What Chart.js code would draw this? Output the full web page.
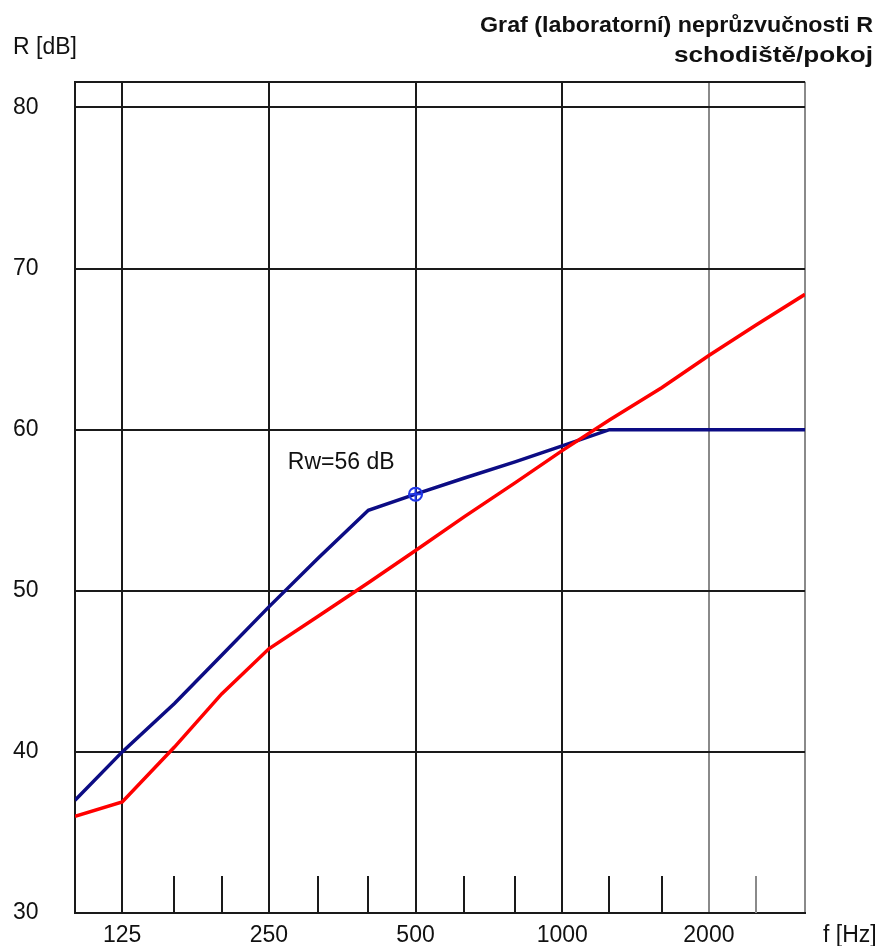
<!DOCTYPE html>
<html>
<head>
<meta charset="utf-8">
<title>Graf neprůzvučnosti R</title>
<script src="https://cdn.jsdelivr.net/npm/chart.js@4.4.1/dist/chart.umd.min.js"></script>
<style>
  html, body { margin: 0; padding: 0; background: #fff; }
  canvas { display: block; }
</style>
</head>
<body>
<canvas id="graf" width="880" height="946"></canvas>
<script>
// 1/3-oktavova pasma [Hz]
var frekvence = [100, 125, 160, 200, 250, 315, 400, 500, 630, 800, 1000, 1250, 1600, 2000, 2500, 3150]
// posunuta referencni krivka (Rw = 56 dB)
var referencni = [37, 40, 43, 46, 49, 52, 55, 56, 57, 58, 59, 60, 60, 60, 60, 60]
// laboratorni nepruzvucnost R [dB]
var nepruzvucnost = [36.0, 36.9, 40.3, 43.6, 46.4, 48.4, 50.5, 52.5, 54.6, 56.7, 58.7, 60.6, 62.6, 64.6, 66.5, 68.4]
var rwBod = [{x: 500, y: 56}]
var rwText = 'Rw=56 dB'

var xPopisky = [125, 250, 500, 1000, 2000]
var xMrizka = [100, 125, 250, 500, 1000, 2000, 3150]
var xMale = [160, 200, 315, 400, 630, 800, 1250, 1600, 2500]
var sede = [2000, 2500, 3150]
var yPopisky = [30, 40, 50, 60, 70, 80]
var yMin = 30
var yMax = 81.6

var PISMO = '"Liberation Sans", Arial, sans-serif'
var CERNA = '#1a1a1a'
var SEDA = '#8a8a8a'

function body(hodnoty) {
    return frekvence.map(function(f, i){ return {x: f, y: hodnoty[i]} })
}

function napis(ctx, text, x, y, font, align, sirka) {
    ctx.save()
    ctx.font = font
    ctx.textBaseline = 'alphabetic'
    ctx.textAlign = align
    var w = ctx.measureText(text).width
    var k = sirka ? sirka / w : 1
    ctx.translate(x, y)
    ctx.scale(k, 1)
    ctx.fillStyle = '#111'
    ctx.fillText(text, 0, 0)
    ctx.restore()
}

var popisky = {
    id: 'popisky',
    beforeDatasetsDraw: function(chart) {
        // kratke znacky tretinooktav u spodni hrany
        var ctx = chart.ctx
        var sx = chart.scales.x
        var dole = chart.chartArea.bottom
        ctx.save()
        ctx.lineWidth = 2
        xMale.forEach(function(f){
            var x = Math.round(sx.getPixelForValue(f))
            ctx.strokeStyle = sede.indexOf(f) >= 0 ? SEDA : CERNA
            ctx.beginPath()
            ctx.moveTo(x, dole)
            ctx.lineTo(x, dole - 37)
            ctx.stroke()
        })
        ctx.restore()
    },
    afterDraw: function(chart) {
        var ctx = chart.ctx
        napis(ctx, 'Graf (laboratorní) neprůzvučnosti R', 873, 32, 'bold 22px ' + PISMO, 'right', 393)
        napis(ctx, 'schodiště/pokoj', 873, 61.5, 'bold 22px ' + PISMO, 'right', 199)
        napis(ctx, 'R [dB]', 13, 54, '23px ' + PISMO, 'left')
        napis(ctx, 'f [Hz]', 823, 942, '23px ' + PISMO, 'left')
        var px = chart.scales.x.getPixelForValue(rwBod[0].x)
        var py = chart.scales.y.getPixelForValue(rwBod[0].y)
        napis(ctx, rwText, px - 21, py - 25, '23px ' + PISMO, 'right')
    }
}

new Chart(document.getElementById('graf'), {
    type: 'line',
    data: {
        datasets: [{
            label: 'Rw',
            data: rwBod,
            showLine: false,
            pointStyle: 'cross',
            pointRadius: 7,
            borderColor: '#2238e8',
            borderWidth: 2
        }, {
            label: 'Rw kruh',
            data: rwBod,
            showLine: false,
            pointStyle: 'circle',
            pointRadius: 6.5,
            borderColor: '#2238e8',
            backgroundColor: 'rgba(0,0,0,0)',
            borderWidth: 2
        }, {
            label: 'R',
            data: body(nepruzvucnost),
            borderColor: '#ff0000',
            borderWidth: 3.5,
            pointRadius: 0,
            tension: 0,
            fill: false
        }, {
            label: 'referencni',
            data: body(referencni),
            borderColor: '#0c0c84',
            borderWidth: 3.5,
            pointRadius: 0,
            tension: 0,
            fill: false
        }]
    },
    options: {
        responsive: false,
        animation: false,
        devicePixelRatio: 1,
        layout: { padding: { left: 13, top: 81.7, right: 75, bottom: 0 } },
        plugins: {
            legend: { display: false },
            tooltip: { enabled: false },
            title: { display: false }
        },
        scales: {
            x: {
                type: 'logarithmic',
                min: 100,
                max: 3150,
                afterBuildTicks: function(s){ s.ticks = xMrizka.map(function(v){ return {value: v} }) },
                afterFit: function(s){ s.height = 33 },
                ticks: {
                    autoSkip: false,
                    maxRotation: 0,
                    padding: 9,
                    color: '#111',
                    font: { family: PISMO, size: 23 },
                    callback: function(v){ return xPopisky.indexOf(v) >= 0 ? String(v) : '' }
                },
                grid: {
                    drawTicks: false,
                    lineWidth: 2,
                    color: function(c){ return c.tick && sede.indexOf(c.tick.value) >= 0 ? SEDA : CERNA }
                },
                border: { color: CERNA, width: 2 }
            },
            y: {
                min: yMin,
                max: yMax,
                afterBuildTicks: function(s){ s.ticks = yPopisky.concat([yMax]).map(function(v){ return {value: v} }) },
                afterFit: function(s){ s.width = 62 },
                ticks: {
                    crossAlign: 'far',
                    padding: 0,
                    color: '#111',
                    font: { family: PISMO, size: 23 },
                    callback: function(v){ return yPopisky.indexOf(v) >= 0 ? String(v) : '' }
                },
                grid: { drawTicks: false, lineWidth: 2, color: CERNA },
                border: { color: CERNA, width: 2 }
            }
        }
    },
    plugins: [popisky]
})
</script>
</body>
</html>
